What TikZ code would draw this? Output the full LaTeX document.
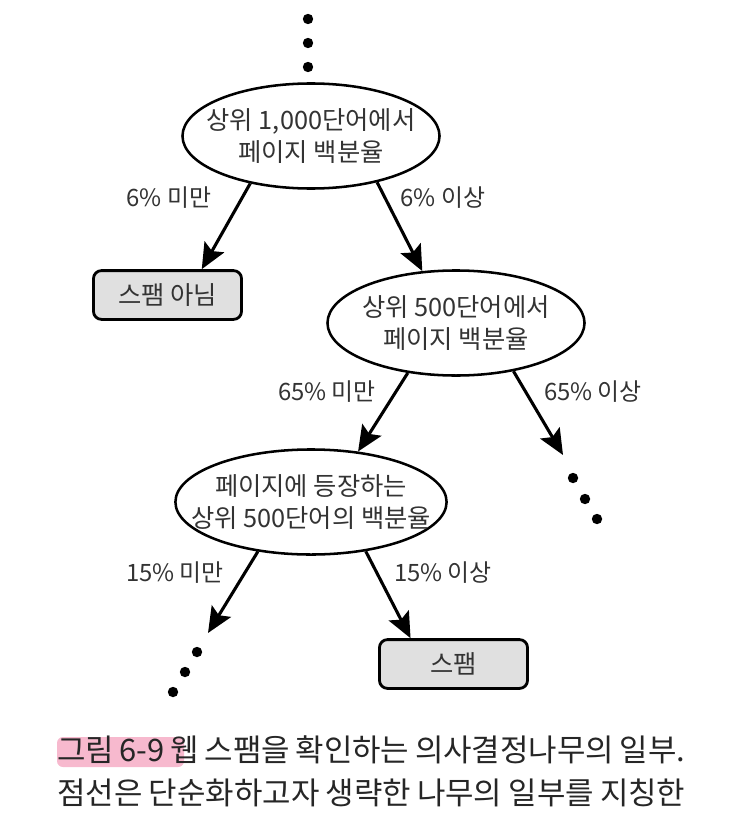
\documentclass[tikz,border=0pt]{standalone}
\usepackage{fontspec}
\setmainfont{Noto Sans CJK KR}
\usepackage{xcolor}
\usetikzlibrary{arrows.meta,shapes.geometric}

\definecolor{textgray}{HTML}{333333}
\definecolor{leafgray}{HTML}{E0E0E0}
\definecolor{marker}{HTML}{F07FA6}

\tikzset{
	question/.style={ellipse, draw, line width=1.8pt, minimum width=6.425cm, minimum height=2.625cm, inner xsep=-0.6cm, inner ysep=0pt, align=center, text=textgray, font=\fontsize{18}{22.5}\selectfont},
	leaf/.style={rectangle, draw, rounded corners=0.2cm, line width=2pt, fill=leafgray, minimum width=3.7cm, minimum height=1.22cm, text=textgray, font=\fontsize{18}{20}\selectfont},
	branch/.style={line width=2.2pt, -{Stealth[length=0.64cm, width=0.56cm, inset=0.12cm]}},
	cond/.style={text=textgray, font=\fontsize{17}{20}\selectfont},
	dot/.style={circle, fill=black, inner sep=0pt, minimum size=0.26cm},
	caption/.style={text=black!85, font=\fontsize{22}{26}\selectfont, anchor=west, inner sep=0pt}
}

\begin{document}
\begin{tikzpicture}[x=0.025cm, y=-0.025cm]
\useasboundingbox (0,0) rectangle (740,821);

\node[dot] (t1) at (308,19) {};
\node[dot] (t2) at (308,43) {};
\node[dot] (t3) at (308,67) {};

\node[question] (e1) at (311,136) {상위 1,000단어에서\\페이지 백분율};
\node[leaf] (no) at (167.5,295) {스팸 아님};
\node[question] (e2) at (456,323) {상위 500단어에서\\페이지 백분율};
\node[question] (e3) at (311,502) {페이지에 등장하는\\상위 500단어의 백분율};
\node[leaf] (spam) at (453.5,664) {스팸};

\coordinate (rest) at (563,455);
\node[dot] (r1) at (573,478) {};
\node[dot] (r2) at (585,499) {};
\node[dot] (r3) at (597,519) {};

\coordinate (left) at (208,633);
\node[dot] (l1) at (197,652) {};
\node[dot] (l2) at (185,672) {};
\node[dot] (l3) at (173,692) {};

\draw[branch] (e1.218) -- (no.37);
\draw[branch] (e1.-35) -- (e2.123);
\draw[branch] (e2.226) -- (e3.47);
\draw[branch] (e2.-40) -- (rest);
\draw[branch] (e3.-137) -- (left);
\draw[branch] (e3.-42) -- (spam.149);

\node[cond] (c1) at (169,198) {6\% 미만};
\node[cond] (c2) at (443,198) {6\% 이상};
\node[cond] (c3) at (327,392) {65\% 미만};
\node[cond] (c4) at (593,392) {65\% 이상};
\node[cond] (c5) at (175,573) {15\% 미만};
\node[cond] (c6) at (443,573) {15\% 이상};

\fill[marker, opacity=0.55, rounded corners=0.15cm] (57,737) rectangle (184,767);
\node[caption] (cap1) at (57,750) {\makebox[15.7cm][s]{그림 6-9 웹 스팸을 확인하는 의사결정나무의 일부.}};
\node[caption] (cap2) at (57,793) {\makebox[15.7cm][s]{점선은 단순화하고자 생략한 나무의 일부를 지칭한}};

\end{tikzpicture}
\end{document}
